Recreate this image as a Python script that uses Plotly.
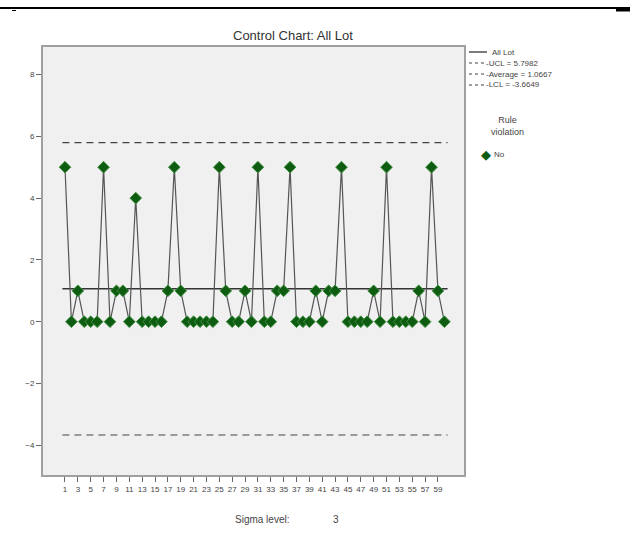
import plotly.graph_objects as go

# ---- data ----
sample = list(range(1, 61))
values = [5, 0, 1, 0, 0, 0, 5, 0, 1, 1,
          0, 4, 0, 0, 0, 0, 1, 5, 1, 0,
          0, 0, 0, 0, 5, 1, 0, 0, 1, 0,
          5, 0, 0, 1, 1, 5, 0, 0, 0, 1,
          0, 1, 1, 5, 0, 0, 0, 0, 1, 0,
          5, 0, 0, 0, 0, 1, 0, 5, 1, 0]
ucl = 5.7982
average = 1.0667
lcl = -3.6649
x_ticks = list(range(1, 60, 2))
y_ticks = [-4, -2, 0, 2, 4, 6, 8]
limit_span = [0.6, 60.5]

W, H = 630, 547
L, R, T, B = 43, 166, 47, 72
PW, PH = W - L - R, H - T - B


def px(x):
    return (x - L) / PW


def py(y):
    return (H - B - y) / PH


FONT = "Liberation Sans, Arial, sans-serif"

fig = go.Figure()
fig.add_trace(go.Scatter(x=limit_span, y=[ucl, ucl], mode="lines",
                         line=dict(color="#444444", width=1.2, dash="7px,5px"),
                         hoverinfo="skip", showlegend=False))
fig.add_trace(go.Scatter(x=limit_span, y=[lcl, lcl], mode="lines",
                         line=dict(color="#444444", width=1.2, dash="7px,5px"),
                         hoverinfo="skip", showlegend=False))
fig.add_trace(go.Scatter(x=limit_span, y=[average, average], mode="lines",
                         line=dict(color="#333333", width=1.3),
                         hoverinfo="skip", showlegend=False))
fig.add_trace(go.Scatter(x=sample, y=values, mode="lines+markers",
                         line=dict(color="#555555", width=1.2),
                         marker=dict(symbol="diamond", size=9, color="#0e5c12",
                                     line=dict(color="#3f8f3f", width=1)),
                         showlegend=False))

fig.update_layout(
    width=W, height=H,
    margin=dict(l=L, r=R, t=T, b=B),
    paper_bgcolor="white", plot_bgcolor="#f0f0f0",
    font=dict(family=FONT, size=8, color="#444444"),
    showlegend=False,
)
fig.update_xaxes(range=[-2.42, 63.05], tickvals=x_ticks, ticks="outside", ticklen=5,
                 tickcolor="#666666", showgrid=False, zeroline=False,
                 showline=True, linecolor="#a0a0a0", linewidth=2, mirror=True,
                 tickfont=dict(size=8, color="#444444"))
fig.update_yaxes(range=[-4.96, 8.89], tickvals=y_ticks, ticks="outside", ticklen=5,
                 tickcolor="#666666", showgrid=False, zeroline=False,
                 showline=True, linecolor="#a0a0a0", linewidth=2, mirror=True,
                 tickfont=dict(size=8, color="#444444"))

# top rule line of the page
fig.add_shape(type="line", xref="paper", yref="paper", x0=px(0), x1=px(W),
              y0=py(8), y1=py(8), line=dict(color="black", width=2))
fig.add_shape(type="line", xref="paper", yref="paper", x0=px(12), x1=px(16),
              y0=py(10.5), y1=py(10.5), line=dict(color="black", width=1))
fig.add_shape(type="line", xref="paper", yref="paper", x0=px(616), x1=px(630),
              y0=py(10), y1=py(10), line=dict(color="black", width=3))

ann = []
ann.append(dict(text="Control Chart: All Lot", x=px(293), y=py(35), xref="paper", yref="paper",
                showarrow=False, font=dict(size=13, color="#333333", family=FONT),
                xanchor="center", yanchor="middle"))
ann.append(dict(text="Sigma level:", x=px(262), y=py(519), xref="paper", yref="paper",
                showarrow=False, font=dict(size=10, color="#444444", family=FONT),
                xanchor="center", yanchor="middle"))
ann.append(dict(text="3", x=px(336), y=py(519), xref="paper", yref="paper",
                showarrow=False, font=dict(size=10, color="#444444", family=FONT),
                xanchor="center", yanchor="middle"))

# legend
leg_rows = [("All Lot", 52, "solid"), (f"UCL = {ucl:.4f}", 63, "dash"),
            (f"Average = {average:.4f}", 74, "dash"), (f"LCL = {lcl:.4f}", 85, "dash")]
for text, y, kind in leg_rows:
    if kind == "solid":
        fig.add_shape(type="line", xref="paper", yref="paper", x0=px(469), x1=px(487),
                      y0=py(y), y1=py(y), line=dict(color="#333333", width=1.3))
        tx = 490
    else:
        fig.add_shape(type="line", xref="paper", yref="paper", x0=px(469), x1=px(484),
                      y0=py(y), y1=py(y), line=dict(color="#444444", width=1.2, dash="3px,3px"))
        tx = 484
    ann.append(dict(text=("-" if kind == "dash" else "") + text, x=px(tx), y=py(y),
                    xref="paper", yref="paper", showarrow=False,
                    font=dict(size=8, color="#444444", family=FONT),
                    xanchor="left", yanchor="middle"))
ann.append(dict(text="Rule<br>violation", x=px(508), y=py(126), xref="paper", yref="paper",
                showarrow=False, align="center", font=dict(size=9, color="#444444", family=FONT),
                xanchor="center", yanchor="middle"))
ann.append(dict(text="◆", x=px(486), y=py(154), xref="paper", yref="paper", showarrow=False,
                font=dict(size=13, color="#0e5c12", family="DejaVu Sans"),
                xanchor="center", yanchor="middle"))
ann.append(dict(text="No", x=px(492), y=py(154), xref="paper", yref="paper", showarrow=False,
                font=dict(size=8, color="#444444", family=FONT),
                xanchor="left", yanchor="middle"))
fig.update_layout(annotations=ann)

fig.write_html("out.html")
